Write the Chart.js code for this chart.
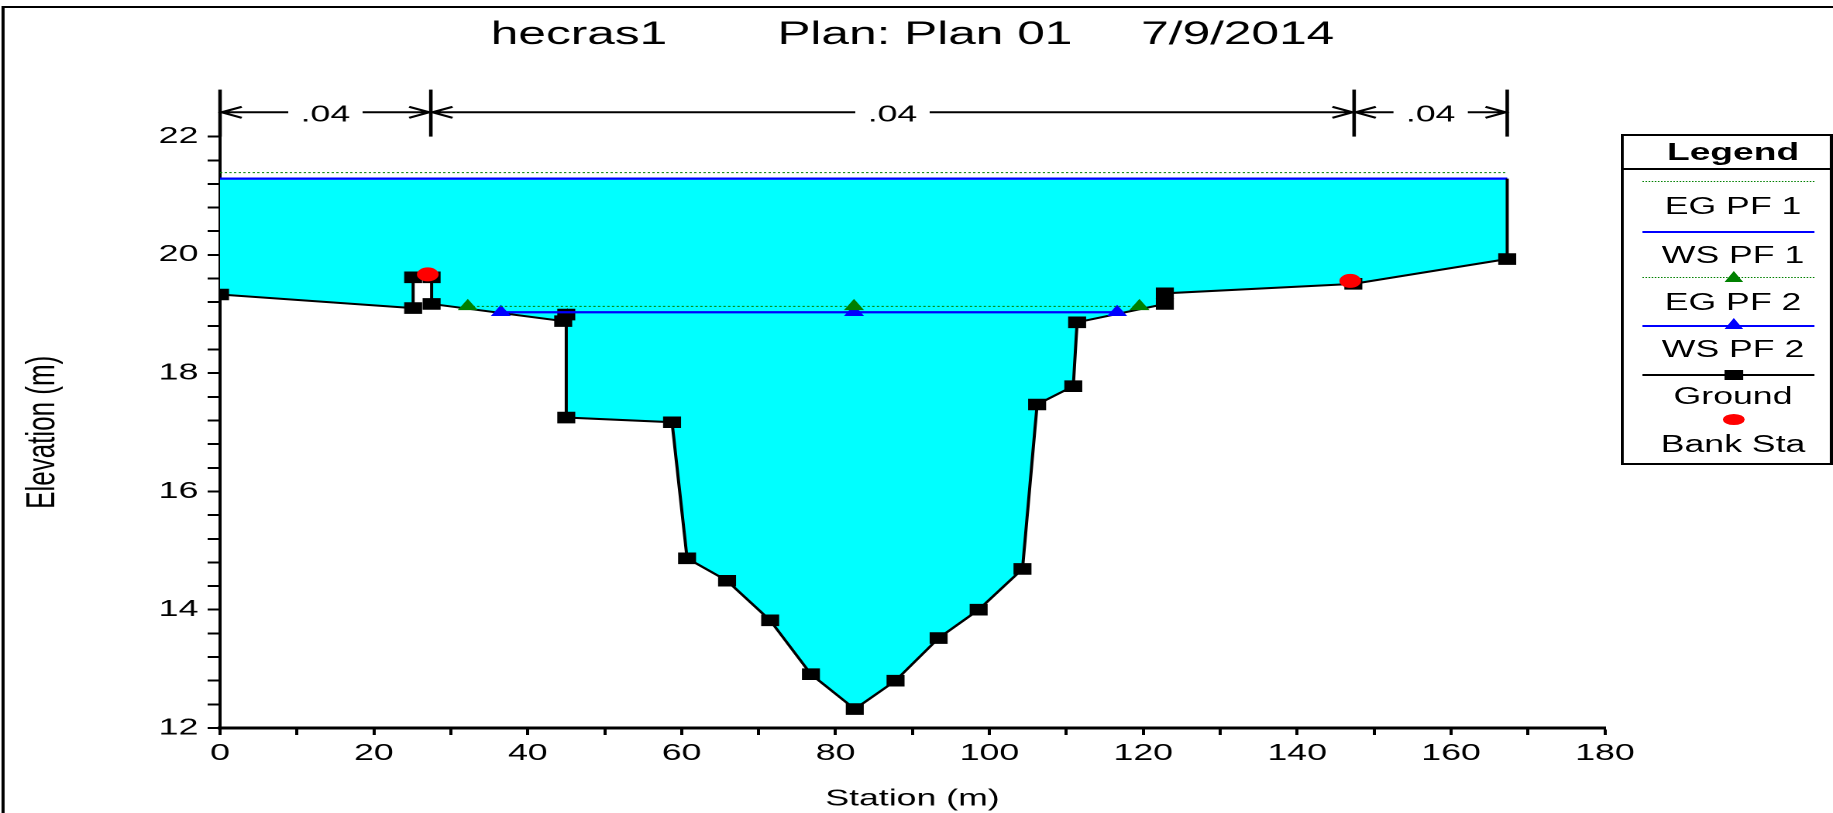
<!DOCTYPE html>
<html>
<head>
<meta charset="utf-8">
<script src="https://cdn.jsdelivr.net/npm/chart.js@4.4.1/dist/chart.umd.min.js"></script>
<style>
html, body { margin: 0; padding: 0; background: #fff; overflow: hidden; width: 1833px; height: 813px; }
#wrap { position: absolute; left: 0; top: 0; width: 1183px; height: 813px; transform: scaleX(1.54945); transform-origin: 0 0; font-family: "Liberation Sans", Arial, sans-serif; color: #000; }
#frame { position: absolute; left: 1px; top: 6px; width: 1400px; height: 1000px; border: 2px solid #000; box-sizing: border-box; }
#c { position: absolute; left: 0; top: 0; }
.abs { position: absolute; }
.lgtxt { position: absolute; left: 1050px; width: 137px; text-align: center; font-size: 23px; line-height: 23px; white-space: nowrap; }
</style>
</head>
<body>
<div id="wrap">
  <div id="frame"></div>
  <canvas id="c" width="1183" height="813"></canvas>
  <div id="legend"></div>
</div>
<script>
// ---------- data ----------
const groundStation = [0, 25.1, 25.1, 27.5, 27.5, 44.6, 45.0, 45.0, 58.75, 60.7, 65.9, 71.5, 76.8, 82.5, 87.8, 93.4, 98.6, 104.3, 106.2, 110.9, 111.4, 122.8, 122.8, 147.3, 167.3];
const groundElev    = [19.33, 19.10, 19.62, 19.62, 19.17, 18.88, 18.99, 17.25, 17.17, 14.87, 14.49, 13.82, 12.91, 12.32, 12.80, 13.52, 14.00, 14.69, 17.47, 17.78, 18.86, 19.17, 19.35, 19.51, 19.93];
const egPF1Station = [0, 167.3];
const egPF1Elev    = [21.39, 21.39];
const wsPF1Station = [0, 167.3];
const wsPF1Elev    = [21.29, 21.29];
const egPF2Station = [32.2, 82.4, 119.5];
const egPF2Elev    = [19.13, 19.13, 19.13];
const wsPF2Station = [36.5, 82.4, 116.6];
const wsPF2Elev    = [19.03, 19.03, 19.03];
const bankStation  = [27.0, 146.9];
const bankElev     = [19.67, 19.56];
const manningBreaks = [0, 27.4, 147.4, 167.3];
const manningValues = ['.04', '.04', '.04'];
const xTickLabels = [0, 20, 40, 60, 80, 100, 120, 140, 160, 180];
const yTickLabels = [12, 14, 16, 18, 20, 22];
const titleParts = ['hecras1', 'Plan: Plan 01', '7/9/2014'];
const xAxisTitle = 'Station (m)';
const yAxisTitle = 'Elevation (m)';
const legendLabels = ['EG PF 1', 'WS PF 1', 'EG PF 2', 'WS PF 2', 'Ground', 'Bank Sta'];

const FONT = '"Liberation Sans", Arial, sans-serif';
const pts = (xs, ys) => xs.map((x, i) => ({ x: x, y: ys[i] }));
const lastSta = groundStation[groundStation.length - 1];
const lastElev = groundElev[groundElev.length - 1];

Chart.defaults.font.family = FONT;
Chart.defaults.color = '#000';

const manningPlugin = {
  id: 'manning',
  afterDraw(chart) {
    const { ctx, chartArea } = chart;
    const xs = chart.scales.x;
    const barTop = chartArea.top - 47, barBot = chartArea.top, lineY = chartArea.top - 24.3;
    ctx.save();
    ctx.strokeStyle = '#000';
    ctx.fillStyle = '#000';
    ctx.lineWidth = 2.3;
    manningBreaks.forEach(s => {
      const px = xs.getPixelForValue(s);
      ctx.beginPath(); ctx.moveTo(px, barTop); ctx.lineTo(px, barBot); ctx.stroke();
    });
    ctx.font = '23px ' + FONT;
    ctx.textAlign = 'center';
    ctx.textBaseline = 'middle';
    ctx.lineWidth = 2;
    for (let i = 0; i < manningValues.length; i++) {
      const x1 = xs.getPixelForValue(manningBreaks[i]);
      const x2 = xs.getPixelForValue(manningBreaks[i + 1]);
      const cx = (x1 + x2) / 2;
      const tw = ctx.measureText(manningValues[i]).width;
      const gap = 8;
      ctx.beginPath();
      ctx.moveTo(x1, lineY); ctx.lineTo(cx - tw / 2 - gap, lineY);
      ctx.moveTo(cx + tw / 2 + gap, lineY); ctx.lineTo(x2, lineY);
      ctx.moveTo(x1 + 14, lineY - 5.5); ctx.lineTo(x1 + 1, lineY); ctx.lineTo(x1 + 14, lineY + 5.5);
      ctx.moveTo(x2 - 14, lineY - 5.5); ctx.lineTo(x2 - 1, lineY); ctx.lineTo(x2 - 14, lineY + 5.5);
      ctx.stroke();
      ctx.fillText(manningValues[i], cx, lineY + 3);
    }
    ctx.restore();
  }
};

const isLabel = (list, v) => list.some(t => Math.abs(t - v) < 1e-6);

new Chart(document.getElementById('c'), {
  type: 'line',
  data: {
    datasets: [
      { label: 'Bank Sta', data: pts(bankStation, bankElev), showLine: false, pointStyle: 'circle', pointRadius: 7, pointBorderWidth: 0, pointBackgroundColor: '#ff0000', order: 0 },
      { label: 'EG PF 2', data: pts(egPF2Station, egPF2Elev), borderColor: '#008000', borderWidth: 1, borderDash: [1.5, 1.5], pointStyle: 'triangle', pointRadius: 7.5, pointBorderWidth: 0, pointBackgroundColor: '#008000', order: 1 },
      { label: 'WS PF 2', data: pts(wsPF2Station, wsPF2Elev), borderColor: '#0000ff', borderWidth: 2.3, pointStyle: 'triangle', pointRadius: 7.5, pointBorderWidth: 0, pointBackgroundColor: '#0000ff', order: 2 },
      { label: 'Ground', data: pts(groundStation, groundElev), borderColor: '#000', borderWidth: 2, pointStyle: 'rect', pointRadius: 7.5, pointBorderWidth: 1, pointBorderColor: '#000', pointBackgroundColor: '#000', fill: { value: wsPF1Elev[0] }, backgroundColor: '#00ffff', order: 3 },
      { label: 'wall', data: pts([lastSta, lastSta], [lastElev, wsPF1Elev[1]]), borderColor: '#000', borderWidth: 2, pointRadius: 0, order: 4 },
      { label: 'WS PF 1', data: pts(wsPF1Station, wsPF1Elev), borderColor: '#0000ff', borderWidth: 2.3, pointRadius: 0, order: 5 },
      { label: 'EG PF 1', data: pts(egPF1Station, egPF1Elev), borderColor: '#008000', borderWidth: 1, borderDash: [1.5, 1.5], pointRadius: 0, order: 6 }
    ]
  },
  options: {
    responsive: false,
    devicePixelRatio: 2,
    animation: false,
    events: [],
    layout: { padding: { left: 0, right: 147.2, top: 0, bottom: 0 } },
    plugins: {
      legend: { display: false },
      tooltip: { enabled: false },
      filler: { drawTime: 'beforeDatasetsDraw' },
      title: {
        display: true,
        fullSize: false,
        text: titleParts[0] + ' '.repeat(8) + titleParts[1] + ' '.repeat(5) + titleParts[2],
        font: { size: 32, weight: 'normal', family: FONT },
        color: '#000',
        padding: { top: 15.8, bottom: 82.4 }
      }
    },
    scales: {
      x: {
        type: 'linear', min: 0, max: 180,
        ticks: { stepSize: 10, autoSkip: false, maxRotation: 0, padding: 5, color: '#000', font: { size: 23 },
          callback: v => isLabel(xTickLabels, v) ? String(Math.round(v)) : '' },
        grid: { drawOnChartArea: false, drawTicks: true, tickLength: 7, tickWidth: 2, tickColor: '#000' },
        border: { display: true, color: '#000', width: 3 },
        title: { display: true, text: xAxisTitle, color: '#000', font: { size: 23 }, padding: { top: 0, bottom: 0 } },
        afterFit: s => { s.height = 85; }
      },
      y: {
        type: 'linear', min: 12, max: 22,
        ticks: { stepSize: 0.4, autoSkip: false, padding: 6, color: '#000', font: { size: 23 },
          callback: v => isLabel(yTickLabels, v) ? String(Math.round(v)) : '' },
        grid: { drawOnChartArea: false, drawTicks: true, tickLength: 8, tickWidth: 2, tickColor: '#000' },
        border: { display: true, color: '#000', width: 2 },
        title: { display: true, text: yAxisTitle, color: '#000', font: { size: 26 }, padding: { top: 12, bottom: 0 } },
        afterFit: s => { s.width = 142; }
      }
    }
  },
  plugins: [manningPlugin]
});

// ---------- legend (HTML) ----------
(function () {
  const lg = document.getElementById('legend');
  const add = (html) => { lg.insertAdjacentHTML('beforeend', html); };
  add('<div class="abs" style="left:1046px;top:134px;width:137px;height:331px;border:2px solid #000;box-sizing:border-box;background:#fff;"></div>');
  add('<div class="abs" style="left:1046px;top:168px;width:137px;height:2px;background:#000;"></div>');
  add('<div class="lgtxt" style="top:140px;font-size:24px;line-height:24px;font-weight:bold;">Legend</div>');
  const lineL = 1060.4, lineW = 111, mx = 1119;
  add(`<div class="abs" style="left:${lineL}px;top:180.5px;width:${lineW}px;border-top:1px dotted #008000;"></div>`);
  add(`<div class="abs" style="left:${lineL}px;top:230.5px;width:${lineW}px;height:2.3px;background:#0000ff;"></div>`);
  add(`<div class="abs" style="left:${lineL}px;top:276.5px;width:${lineW}px;border-top:1px dotted #008000;"></div>`);
  add(`<div class="abs" style="left:${mx - 6.5}px;top:271px;width:0;height:0;border-left:6.5px solid transparent;border-right:6.5px solid transparent;border-bottom:11px solid #008000;"></div>`);
  add(`<div class="abs" style="left:${lineL}px;top:324.5px;width:${lineW}px;height:2.3px;background:#0000ff;"></div>`);
  add(`<div class="abs" style="left:${mx - 6.5}px;top:317.5px;width:0;height:0;border-left:6.5px solid transparent;border-right:6.5px solid transparent;border-bottom:11px solid #0000ff;"></div>`);
  add(`<div class="abs" style="left:${lineL}px;top:374px;width:${lineW}px;height:2px;background:#000;"></div>`);
  add(`<div class="abs" style="left:${mx - 5.9}px;top:370px;width:11.8px;height:10px;background:#000;"></div>`);
  add(`<div class="abs" style="left:${mx - 7.2}px;top:413.5px;width:14.4px;height:11px;border-radius:50%;background:#ff0000;"></div>`);
  const centers = [206, 255, 302, 349, 396, 444];
  legendLabels.forEach((t, i) => add(`<div class="lgtxt" style="top:${centers[i] - 11.5}px;">${t}</div>`));
})();
</script>
</body>
</html>
